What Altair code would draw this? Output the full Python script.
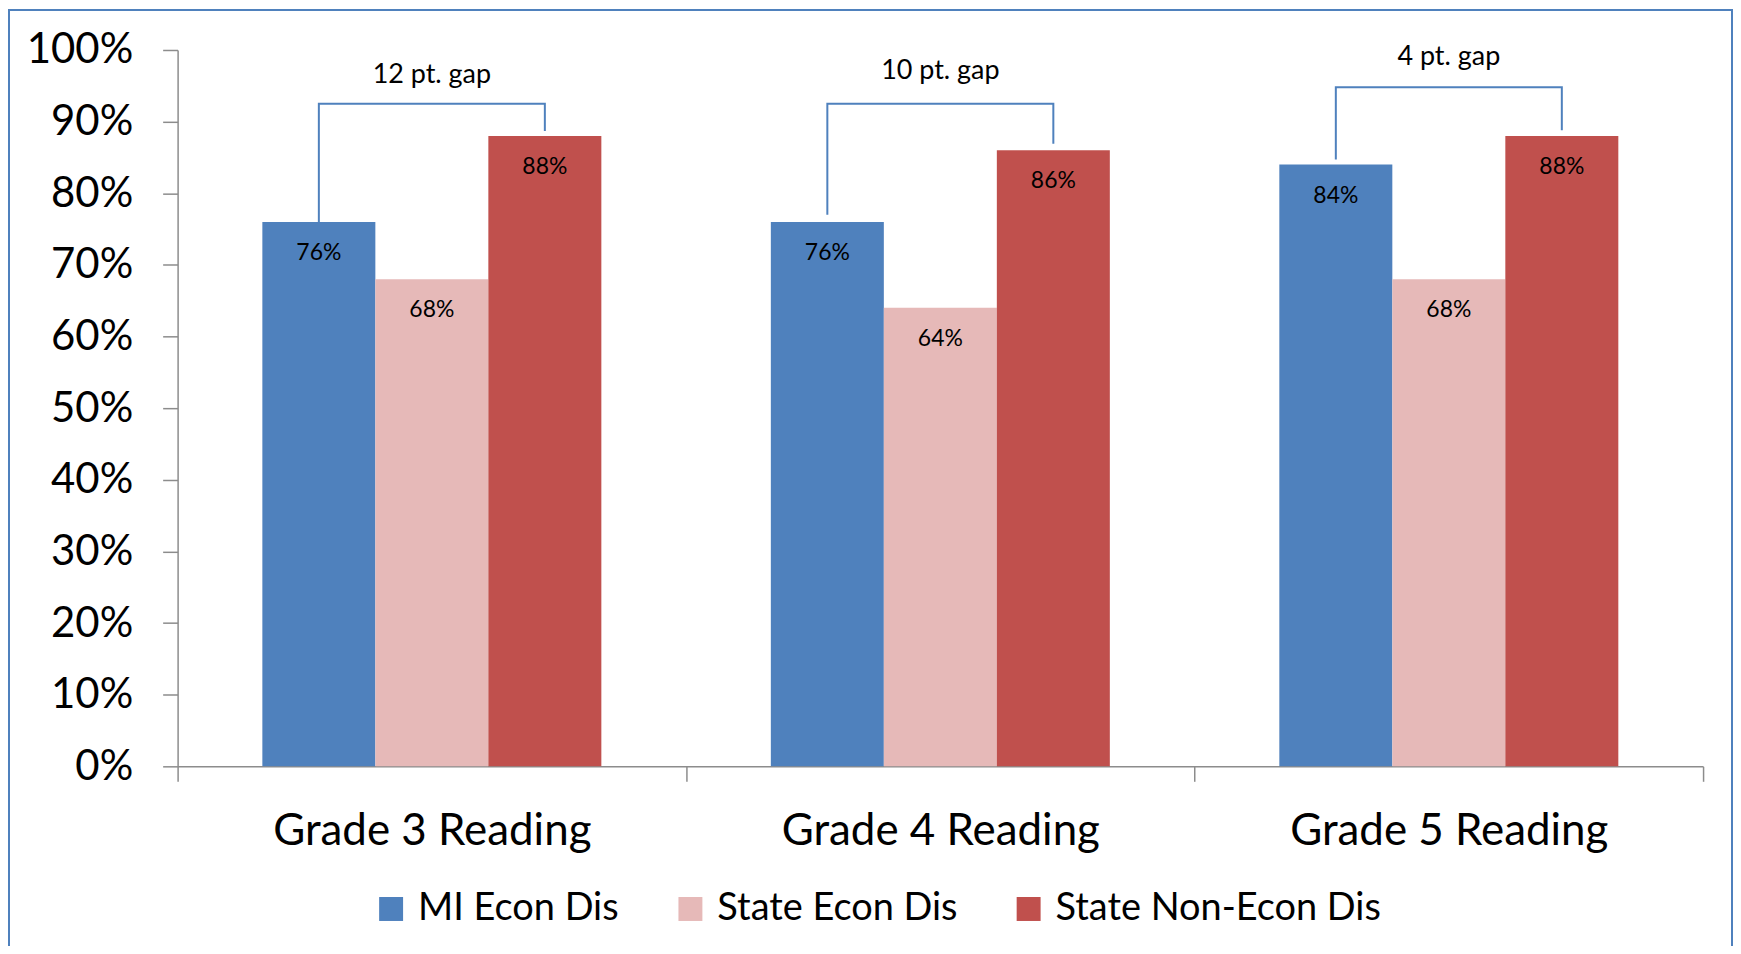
import altair as alt
import pandas as pd

grades = ["Grade 3 Reading", "Grade 4 Reading", "Grade 5 Reading"]
series = ["MI Econ Dis", "State Econ Dis", "State Non-Econ Dis"]
mi_econ = [76, 76, 84]
state_econ = [68, 64, 68]
state_non = [88, 86, 88]

gap_text = ["12 pt. gap", "10 pt. gap", "4 pt. gap"]
gap_text_level = [96.7, 97.2, 99.2]
bracket_top = [92.5, 92.5, 94.8]
left_leg_end = [76.0, 77.0, 84.7]
right_leg_end = [88.7, 86.9, 88.8]

colors = ["#4F81BD", "#E6B9B8", "#C0504D"]
FONT = "Lato"
GREY = "#8C8C8C"

rows = []
for i, g in enumerate(grades):
    for s, vals in zip(series, [mi_econ, state_econ, state_non]):
        rows.append({"grade": g, "series": s, "value": vals[i], "label": f"{vals[i]}%"})
bars_df = pd.DataFrame(rows)

br_rows = []
for i, g in enumerate(grades):
    pts = [(series[0], left_leg_end[i]), (series[0], bracket_top[i]),
           (series[2], bracket_top[i]), (series[2], right_leg_end[i])]
    for k, (s, y) in enumerate(pts):
        br_rows.append({"grade": g, "series": s, "y": y, "order": k})
br_df = pd.DataFrame(br_rows)

gap_df = pd.DataFrame({"grade": grades, "series": [series[1]] * 3,
                       "y": gap_text_level, "text": gap_text})

x_enc = alt.X("grade:N", sort=grades,
              scale=alt.Scale(paddingInner=0, paddingOuter=0),
              axis=alt.Axis(title=None, labelAngle=0, tickBand="extent", tickSize=15,
                            labelFontSize=44, labelFont=FONT, labelColor="black",
                            labelPadding=28, labelLimit=0, domainColor=GREY, tickColor=GREY,
                            domainWidth=1.5, tickWidth=1.5))
xo_enc = alt.XOffset("series:N", sort=series,
                     scale=alt.Scale(paddingInner=0, paddingOuter=0.75))
y_scale = alt.Scale(domain=[0, 100], nice=False)
y_enc = alt.Y("value:Q", scale=y_scale,
              axis=alt.Axis(title=None, values=list(range(0, 101, 10)),
                            labelExpr="datum.value + '%'", grid=False,
                            tickSize=15, labelFontSize=42, labelFont=FONT,
                            labelColor="black", labelPadding=30, labelLimit=0,
                            domainColor=GREY, tickColor=GREY,
                            domainWidth=1.5, tickWidth=1.5))

border = alt.Chart(pd.DataFrame({"a": [0]})).mark_rect(
    fillOpacity=0, stroke="#4F81BD", strokeWidth=2
).encode(x=alt.value(-169), x2=alt.value(1558), y=alt.value(-40), y2=alt.value(1000))

bars = alt.Chart(bars_df).mark_bar().encode(
    x=x_enc, xOffset=xo_enc, y=y_enc,
    color=alt.Color("series:N", sort=series,
                    scale=alt.Scale(domain=series, range=colors),
                    legend=alt.Legend(title=None, orient="none", legendX=195, legendY=842,
                                      direction="horizontal", symbolType="square",
                                      symbolSize=576, symbolStrokeWidth=0,
                                      labelFontSize=38, labelFont=FONT, labelColor="black",
                                      labelOffset=8, columnPadding=52, padding=0,
                                      labelLimit=0))
)

labels = alt.Chart(bars_df).mark_text(
    font=FONT, fontSize=23, color="black", baseline="middle", dy=31
).encode(x=x_enc, xOffset=xo_enc, y=y_enc, text="label:N")

brackets = alt.Chart(br_df).mark_line(color="#4F81BD", strokeWidth=2).encode(
    x=x_enc, xOffset=xo_enc, y=alt.Y("y:Q", scale=y_scale),
    detail="grade:N", order="order:Q"
)

gaps = alt.Chart(gap_df).mark_text(
    font=FONT, fontSize=27, color="black", baseline="middle", dy=1
).encode(x=x_enc, xOffset=xo_enc, y=alt.Y("y:Q", scale=y_scale), text="text:N")

chart = alt.layer(border, bars, labels, brackets, gaps).properties(
    width=1529, height=718,
    autosize=alt.AutoSizeParams(type="none"),
    padding={"left": 170, "top": 41, "right": 30, "bottom": 179},
).configure_view(stroke=None)

chart.save("out.html", embed_options={"renderer": "svg", "actions": False})
